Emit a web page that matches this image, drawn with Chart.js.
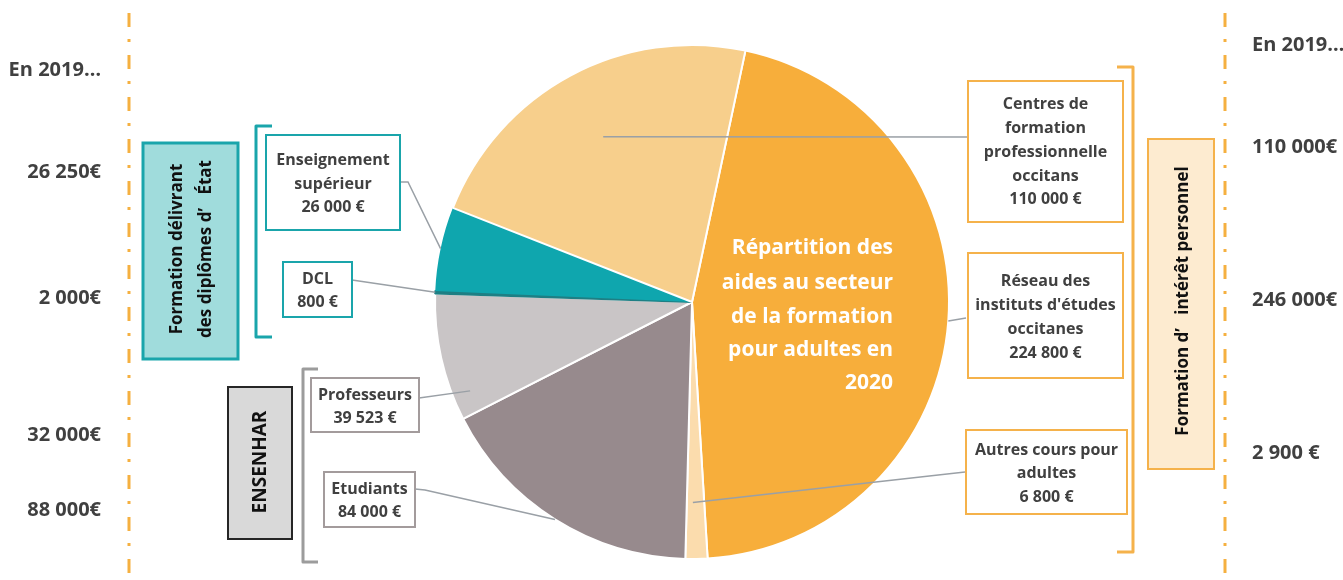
<!DOCTYPE html>
<html lang="fr">
<head>
<meta charset="utf-8">
<title>Répartition des aides 2020</title>
<script src="https://cdn.jsdelivr.net/npm/chart.js@4.4.0/dist/chart.umd.min.js"></script>
<style>
html, body {
  margin: 0;
  padding: 0;
  background: #fff;
}
.chart-container {
  position: relative;
  width: 1343px;
  height: 580px;
}
</style>
</head>
<body>
<div class="chart-container">
  <canvas id="pie-chart"></canvas>
</div>

<script>
/* Data */
const categories = [
  'Réseau des instituts d\'études occitanes',
  'Autres cours pour adultes',
  'Etudiants',
  'Professeurs',
  'DCL',
  'Enseignement supérieur',
  'Centres de formation professionnelle occitans'
];
const amounts = [224800, 6800, 84000, 39523, 800, 26000, 110000];
const sliceColors = ['#F7AE3B', '#FBDCAD', '#978A8D', '#C9C5C6', '#1E7F84', '#0FA6AE', '#F7CF8C'];

/* box labels, one array of lines per slice */
const boxLines = [
  ['Réseau des', 'instituts d\'études', 'occitanes', '224 800 €'],
  ['Autres cours pour', 'adultes', '6 800 €'],
  ['Etudiants', '84 000 €'],
  ['Professeurs', '39 523 €'],
  ['DCL', '800 €'],
  ['Enseignement', 'supérieur', '26 000 €'],
  ['Centres de', 'formation', 'professionnelle', 'occitans', '110 000 €']
];

/* "En 2019..." comparison values */
const leftTitle = 'En 2019…';
const left2019 = ['26 250€', '2 000€', '32 000€', '88 000€'];
const rightTitle = 'En 2019…';
const right2019 = ['110 000€', '246 000€', '2 900 €'];

const centerTitle = ['Répartition des', 'aides au secteur', 'de la formation', 'pour adultes en', '2020'];

/* Layout of the annotation boxes (x, y, w, h) */
const TEAL = '#1AA5AB';
const ORANGE = '#F5B24B';
const GREYB = '#A39B9C';
const TEXT = '#404040';
const FONT = '"Open Sans"';

const boxes = [
  { x: 968, y: 253, w: 155, h: 125, c: ORANGE, ly: [281, 305, 329, 353] },
  { x: 966, y: 430, w: 161, h: 84, c: ORANGE, ly: [450, 473, 497] },
  { x: 324, y: 472, w: 91, h: 55, c: GREYB, ly: [489, 512] },
  { x: 311, y: 378, w: 108, h: 54, c: GREYB, ly: [395, 418] },
  { x: 283, y: 262, w: 69, h: 55, c: TEAL, ly: [279, 302] },
  { x: 266, y: 135, w: 134, h: 95, c: TEAL, ly: [160, 184, 207] },
  { x: 968, y: 81, w: 155, h: 141, c: ORANGE, ly: [104, 128, 152, 176, 199] }
];

/* leader lines: where on the slice (angle fraction, radius fraction) and path to the box */
const leaders = [
  { f: 0.5, r: 1.0, pts: [[966, 318]] },
  { f: 0.65, r: 0.78, pts: [[965, 472]] },
  { f: 0.5, r: 1.0, pts: [[425, 490], [415, 489]] },
  { f: 0.18, r: 0.93, pts: [[419, 398]] },
  { f: 0.5, r: 1.0, pts: [[352, 280]] },
  { f: 0.5, r: 1.0, pts: [[408, 182], [400, 182]] },
  { f: 0.5, r: 0.73, pts: [[968, 137]] }
];

function drawBox(ctx, b, fill, lw) {
  ctx.save();
  if (fill) {
    ctx.fillStyle = fill;
    ctx.fillRect(b.x, b.y, b.w, b.h);
  }
  ctx.strokeStyle = b.c;
  ctx.lineWidth = lw || 2;
  ctx.strokeRect(b.x, b.y, b.w, b.h);
  ctx.restore();
}

function dashedVertical(ctx, x, y0, y1) {
  ctx.save();
  ctx.strokeStyle = '#F5B040';
  ctx.lineWidth = 3;
  ctx.setLineDash([14, 12, 3, 13]);
  ctx.beginPath();
  ctx.moveTo(x, y0);
  ctx.lineTo(x, y1);
  ctx.stroke();
  ctx.restore();
}

function bracket(ctx, x, y0, y1, tickX, color) {
  ctx.save();
  ctx.strokeStyle = color;
  ctx.lineWidth = 3;
  ctx.lineJoin = 'round';
  ctx.beginPath();
  ctx.moveTo(tickX, y0);
  ctx.lineTo(x, y0);
  ctx.lineTo(x, y1);
  ctx.lineTo(tickX, y1);
  ctx.stroke();
  ctx.restore();
}

function rotatedText(ctx, lines, cx, cy, lineGap, font) {
  ctx.save();
  ctx.translate(cx, cy);
  ctx.rotate(-Math.PI / 2);
  ctx.font = font;
  ctx.fillStyle = '#111';
  ctx.textAlign = 'center';
  ctx.textBaseline = 'middle';
  const off = (lines.length - 1) / 2;
  lines.forEach((t, i) => ctx.fillText(t, 0, (i - off) * lineGap));
  ctx.restore();
}

const annotations = {
  id: 'annotations',
  afterDraw(chart) {
    const ctx = chart.ctx;
    const meta = chart.getDatasetMeta(0);

    /* vertical dash-dot separators */
    dashedVertical(ctx, 129, 13, 580);
    dashedVertical(ctx, 1225, 13, 580);

    /* 2019 values */
    ctx.save();
    ctx.fillStyle = TEXT;
    ctx.font = 'bold 20px ' + FONT;
    ctx.textBaseline = 'middle';
    ctx.textAlign = 'right';
    ctx.fillText(leftTitle, 101, 70);
    [172, 298, 435, 510].forEach((y, i) => ctx.fillText(left2019[i], 101, y));
    ctx.textAlign = 'left';
    ctx.fillText(rightTitle, 1252, 45);
    [147, 300, 453].forEach((y, i) => ctx.fillText(right2019[i], 1252, y));
    ctx.restore();

    /* group boxes */
    drawBox(ctx, { x: 143, y: 143, w: 95, h: 216, c: TEAL }, '#A0DCDC', 3);
    rotatedText(ctx, ['Formation délivrant', 'des diplômes d\u2019   État'], 192, 249, 29, 'bold 17px ' + FONT);
    drawBox(ctx, { x: 228, y: 387, w: 64, h: 152, c: '#262626' }, '#D9D9D9', 2);
    rotatedText(ctx, ['ENSENHAR'], 261, 462, 20, 'bold 19px ' + FONT);
    drawBox(ctx, { x: 1148, y: 139, w: 66, h: 330, c: ORANGE }, '#FDEBD0', 2);
    rotatedText(ctx, ['Formation d\u2019   intérêt personnel'], 1183, 301, 20, 'bold 17px ' + FONT);

    /* brackets */
    bracket(ctx, 256, 126, 337, 272, TEAL);
    bracket(ctx, 303, 369, 562, 318, '#9C9C9C');
    bracket(ctx, 1133, 67, 552, 1117, ORANGE);

    /* leader lines from each slice to its label box */
    ctx.save();
    ctx.strokeStyle = '#9AA0A6';
    ctx.lineWidth = 1.5;
    meta.data.forEach((arc, i) => {
      const p = arc.getProps(['x', 'y', 'startAngle', 'endAngle', 'outerRadius'], true);
      const L = leaders[i];
      const a = p.startAngle + L.f * (p.endAngle - p.startAngle);
      const rr = L.r * p.outerRadius;
      ctx.beginPath();
      ctx.moveTo(p.x + Math.cos(a) * rr, p.y + Math.sin(a) * rr);
      L.pts.forEach(pt => ctx.lineTo(pt[0], pt[1]));
      ctx.stroke();
    });
    ctx.restore();

    /* label boxes */
    ctx.save();
    ctx.font = 'bold 16px ' + FONT;
    ctx.textAlign = 'center';
    ctx.textBaseline = 'middle';
    boxes.forEach((b, i) => {
      drawBox(ctx, b, '#fff', 2);
      ctx.fillStyle = TEXT;
      boxLines[i].forEach((t, j) => ctx.fillText(t, b.x + b.w / 2, b.ly[j]));
    });
    ctx.restore();

    /* title inside the big slice */
    ctx.save();
    ctx.font = 'bold 21px ' + FONT;
    ctx.fillStyle = '#fff';
    ctx.textAlign = 'right';
    ctx.textBaseline = 'middle';
    [248, 283, 317, 350, 383].forEach((y, i) => ctx.fillText(centerTitle[i], 893, y));
    ctx.restore();
  }
};

const chart = new Chart(document.getElementById('pie-chart'), {
  type: 'pie',
  data: {
    labels: categories,
    datasets: [{
      data: amounts,
      backgroundColor: sliceColors,
      borderColor: ['#fff', '#fff', '#fff', '#fff', '#1E7F84', '#fff', '#fff'],
      borderWidth: [2, 2, 2, 2, 2, 0, 2]
    }]
  },
  options: {
    responsive: true,
    maintainAspectRatio: false,
    animation: false,
    rotation: 12,
    layout: {
      padding: { left: 300, right: 259, top: 44, bottom: 20 }
    },
    plugins: {
      legend: { display: false },
      tooltip: { enabled: false }
    }
  },
  plugins: [annotations]
});
</script>
</body>
</html>
